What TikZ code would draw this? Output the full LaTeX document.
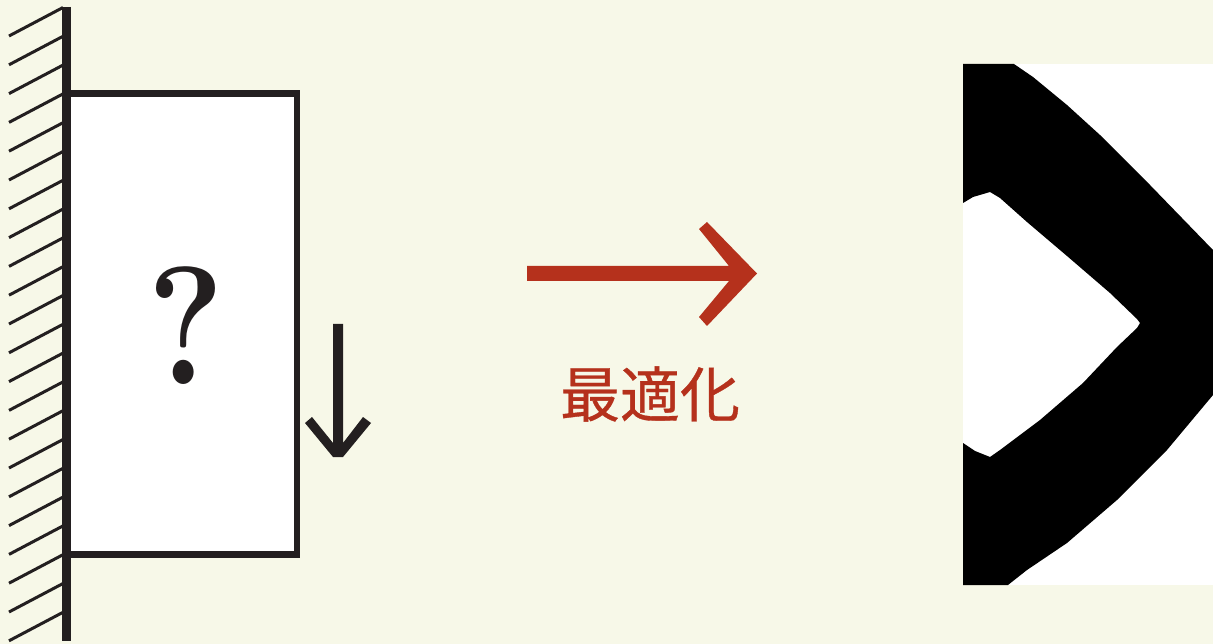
\documentclass[tikz,border=0pt]{standalone}
\usepackage{fontspec}
\newfontfamily\cjk[FakeBold=0.6]{Noto Sans CJK JP}
\definecolor{bgc}{HTML}{F7F8E8}
\definecolor{ink}{HTML}{231F20}
\definecolor{redc}{HTML}{B5311C}
\tikzset{px/.style={x=1pt,y=-1pt},
 hatch/.style={draw=ink,line width=3pt},
 wall/.style={draw=ink,line width=9.5pt},
 frame/.style={draw=ink,fill=white,line width=6.5pt,miter limit=10,outer sep=0pt}}
\begin{document}
\begin{tikzpicture}[px]
\useasboundingbox (0,0) rectangle (1213,644);
\fill[bgc] (0,0) rectangle (1213,644);
% hatching
\foreach \i in {0,...,21}{
  \draw[hatch] (9,{36+\i*28.8}) -- (63,{7.5+\i*28.8});
}
% member
\node[frame,minimum width=231pt,minimum height=461pt,inner sep=0pt,anchor=north west] (box) at (66,93.5) {};
\node[font=\bfseries\fontsize{165}{165}\selectfont,text=ink,inner sep=0pt] (q) at (186,326) {\scalebox{0.88}[1.02]{?}};
% wall
\coordinate (wt) at (66.5,7);
\coordinate (wb) at (66.5,641);
\draw[wall] (wt) -- (wb);
% load
\fill[ink] (333,324) -- (343,324) -- (343,443) -- (363,417) -- (371,423) -- (343,457) -- (333,457) -- (305,423) -- (312,417) -- (333,443) -- cycle;
% red arrow
\fill[redc] (527,266) -- (729,266) -- (699,229) -- (707,222) -- (757,273.5) -- (707,326) -- (699,317) -- (729,281) -- (527,281) -- cycle;
\node[font=\cjk\fontsize{60}{60}\selectfont,text=redc,inner sep=0pt] (lab) at (650,394) {最適化};
% result
\fill[white] (963,64) rectangle (1213,585);
\begin{scope}
\clip (963,64) rectangle (1213,585);
\fill[black] (963,64) -- (1014,64) -- (1033,77) -- (1067,105) -- (1100,135) -- (1150,185) -- (1213,250)
 -- (1213,395) -- (1167,450) -- (1117,500) -- (1067,543) -- (1027,570) -- (1008,585)
 -- (963,585) -- (963,443) -- (975,451) -- (990,457) -- (1000,450) -- (1040,420) -- (1083,383) -- (1117,347) -- (1137,328) -- (1140,323) -- (1137,319)
 -- (1110,293) -- (1067,256) -- (1027,222) -- (1000,198) -- (990,192) -- (973,197) -- (963,203) -- cycle;
\end{scope}
\end{tikzpicture}
\end{document}
